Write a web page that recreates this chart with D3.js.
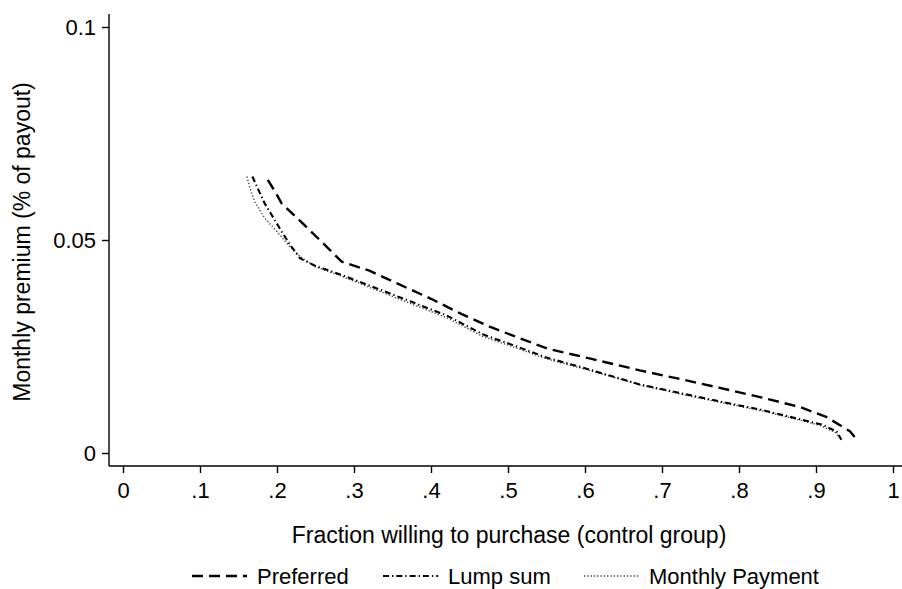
<!DOCTYPE html>
<html>
<head>
<meta charset="utf-8">
<script src="https://cdn.jsdelivr.net/npm/d3@7/dist/d3.min.js"></script>
<style>
  html, body { margin: 0; padding: 0; background: #fff; }
  svg { display: block; }
  text { font-family: "Liberation Sans", Arial, Helvetica, sans-serif; fill: #000; }
</style>
</head>
<body>
<svg id="chart" width="902" height="589"></svg>
<script>
// Demand curves: fraction willing to purchase vs. monthly premium
const preferredX = [0.188, 0.197, 0.206, 0.230, 0.260, 0.284, 0.320, 0.356, 0.400, 0.440, 0.477, 0.510, 0.551, 0.606, 0.671, 0.720, 0.775, 0.830, 0.879, 0.914, 0.944, 0.955];
const preferredY = [0.0641, 0.0615, 0.0586, 0.0545, 0.0492, 0.0449, 0.0428, 0.0398, 0.0362, 0.0326, 0.0296, 0.0273, 0.0245, 0.0222, 0.0194, 0.0175, 0.0153, 0.0130, 0.0108, 0.0084, 0.0051, 0.0027];

const lumpX = [0.168, 0.176, 0.184, 0.195, 0.206, 0.218, 0.230, 0.250, 0.284, 0.320, 0.373, 0.420, 0.468, 0.510, 0.550, 0.600, 0.671, 0.720, 0.775, 0.830, 0.875, 0.909, 0.927, 0.933];
const lumpY = [0.0649, 0.0617, 0.0586, 0.0553, 0.0520, 0.0486, 0.0457, 0.0439, 0.0418, 0.0393, 0.0356, 0.0323, 0.0278, 0.0251, 0.0224, 0.0199, 0.0161, 0.0142, 0.0121, 0.0101, 0.0081, 0.0066, 0.0050, 0.0031];

const monthlyX = [0.161, 0.165, 0.171, 0.184, 0.200, 0.215, 0.230, 0.250, 0.284, 0.320, 0.373, 0.420, 0.468, 0.510, 0.550, 0.600, 0.671, 0.720, 0.775, 0.830, 0.875, 0.905, 0.925, 0.930];
const monthlyY = [0.0649, 0.0621, 0.0590, 0.0551, 0.0520, 0.0488, 0.0461, 0.0437, 0.0415, 0.0389, 0.0351, 0.0318, 0.0273, 0.0247, 0.0221, 0.0197, 0.0160, 0.0140, 0.0119, 0.0099, 0.0079, 0.0065, 0.0048, 0.0037];

const xTicks = [0, 0.1, 0.2, 0.3, 0.4, 0.5, 0.6, 0.7, 0.8, 0.9, 1];
const xTickLabels = ["0", ".1", ".2", ".3", ".4", ".5", ".6", ".7", ".8", ".9", "1"];
const yTicks = [0, 0.05, 0.1];
const yTickLabels = ["0", "0.05", "0.1"];

const seriesNames = ["Preferred", "Lump sum", "Monthly Payment"];
const xTitle = "Fraction willing to purchase (control group)";
const yTitle = "Monthly premium (% of payout)";

const svg = d3.select("#chart");
const FONT = "Liberation Sans, Arial, sans-serif";

const axisLeftX = 109, axisBottomY = 466, plotTop = 14, plotRight = 902;
const x = d3.scaleLinear().domain([0, 1]).range([123, 893]);
const y = d3.scaleLinear().domain([0, 0.1]).range([453, 27]);

// y axis
const yAxis = d3.axisLeft(y).tickValues(yTicks)
  .tickFormat((d, i) => yTickLabels[i]).tickSize(7).tickPadding(6);
const gy = svg.append("g").attr("transform", `translate(${axisLeftX},0)`).call(yAxis);
gy.select(".domain").remove();
gy.append("line").attr("x1", 0).attr("x2", 0).attr("y1", plotTop).attr("y2", axisBottomY)
  .attr("stroke", "#000").attr("stroke-width", 1.4);
gy.selectAll(".tick line").attr("stroke", "#000").attr("stroke-width", 1.4);
gy.selectAll(".tick text").style("font-size", "22px").style("font-family", FONT).attr("fill", "#000");

// x axis
const xAxis = d3.axisBottom(x).tickValues(xTicks)
  .tickFormat((d, i) => xTickLabels[i]).tickSize(7).tickPadding(9);
const gx = svg.append("g").attr("transform", `translate(0,${axisBottomY})`).call(xAxis);
gx.select(".domain").remove();
gx.append("line").attr("x1", axisLeftX).attr("x2", plotRight).attr("y1", 0).attr("y2", 0)
  .attr("stroke", "#000").attr("stroke-width", 1.4);
gx.selectAll(".tick line").attr("stroke", "#000").attr("stroke-width", 1.4);
gx.selectAll(".tick text").style("font-size", "22px").style("font-family", FONT).attr("fill", "#000");

// axis titles
svg.append("text").attr("x", 509).attr("y", 535).attr("dy", "0.35em").attr("text-anchor", "middle")
  .style("font-size", "23px").text(xTitle);
svg.append("text").attr("transform", "translate(30,242) rotate(-90)").attr("text-anchor", "middle")
  .style("font-size", "23px").text(yTitle);

// series styles
const styles = [
  { dash: "11,6", width: 2.4, color: "#000" },
  { dash: "6,3,1.3,3", width: 2.1, color: "#000" },
  { dash: "1.3,2", width: 1.4, color: "#444" }
];

const line = d3.line().x(d => x(d[0])).y(d => y(d[1]));
const seriesData = [
  d3.zip(preferredX, preferredY),
  d3.zip(lumpX, lumpY),
  d3.zip(monthlyX, monthlyY)
];

// draw monthly first so the darker lines sit on top
[2, 1, 0].forEach(i => {
  svg.append("path").datum(seriesData[i]).attr("d", line)
    .attr("fill", "none").attr("stroke", styles[i].color)
    .attr("stroke-width", styles[i].width).attr("stroke-dasharray", styles[i].dash)
    .attr("stroke-linejoin", "round");
});

// legend
const legendY = 576;
const legendItems = [
  { x1: 192, x2: 247, tx: 257 },
  { x1: 383, x2: 438, tx: 448 },
  { x1: 584, x2: 639, tx: 649 }
];
legendItems.forEach((it, i) => {
  svg.append("line").attr("x1", it.x1).attr("x2", it.x2).attr("y1", legendY).attr("y2", legendY)
    .attr("stroke", styles[i].color).attr("stroke-width", styles[i].width)
    .attr("stroke-dasharray", styles[i].dash);
  svg.append("text").attr("x", it.tx).attr("y", legendY).attr("dy", "0.35em")
    .style("font-size", "22px").text(seriesNames[i]);
});
</script>
</body>
</html>
